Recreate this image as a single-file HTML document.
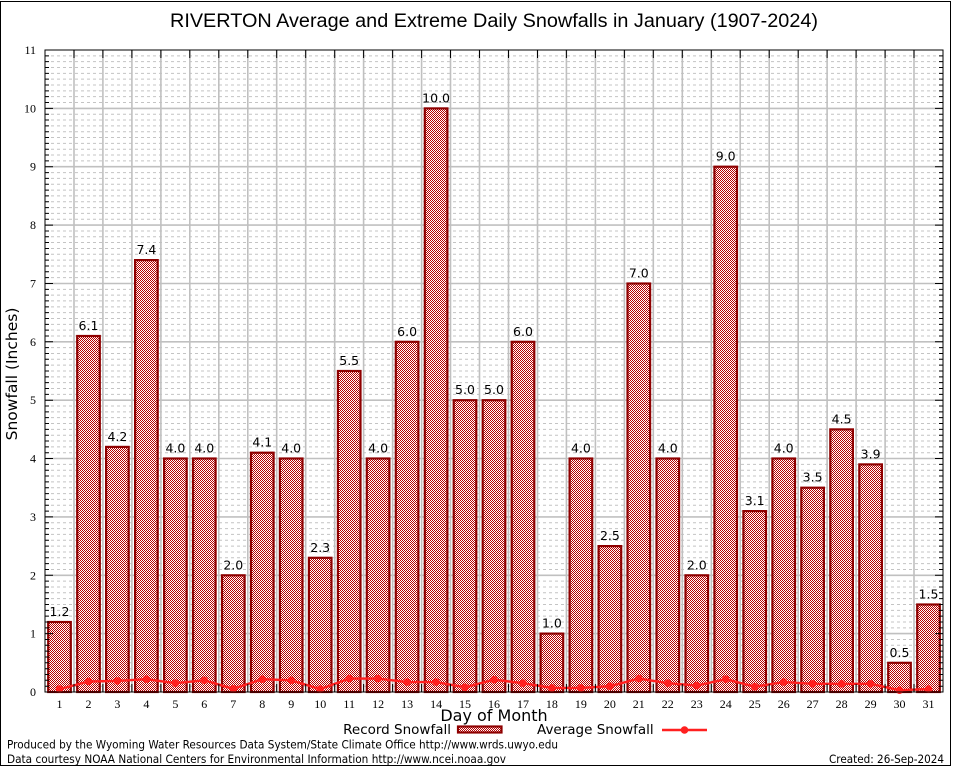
<!DOCTYPE html>
<html><head><meta charset="utf-8"><style>
html,body{margin:0;padding:0;background:#fff;}
svg{display:block;}
.tk{font-family:"Liberation Serif",serif;font-size:12px;fill:#000;}
.vl{font-family:"DejaVu Sans","Liberation Sans",sans-serif;font-size:12.5px;fill:#000;text-anchor:middle;}
.ds{font-family:"DejaVu Sans","Liberation Sans",sans-serif;fill:#000;}
</style></head><body>
<svg width="954" height="768" viewBox="0 0 954 768" xmlns="http://www.w3.org/2000/svg">
<defs>
<pattern id="chk" x="0" y="0" width="2" height="2" patternUnits="userSpaceOnUse">
<rect width="2" height="2" fill="#fff"/>
<rect x="0" y="0" width="1" height="1" fill="#b80000"/>
<rect x="1" y="1" width="1" height="1" fill="#b80000"/>
</pattern>
<path id="mg" d="M45 -5.8H943M45 -11.7H943M45 -17.5H943M45 -23.3H943M45 -29.2H943M45 -35H943M45 -40.9H943M45 -46.7H943M45 -52.5H943"/>
<path id="mt" d="M45 -5.8h4M45 -11.7h4M45 -17.5h4M45 -23.3h4M45 -29.2h4M45 -35h4M45 -40.9h4M45 -46.7h4M45 -52.5h4M943 -5.8h-4M943 -11.7h-4M943 -17.5h-4M943 -23.3h-4M943 -29.2h-4M943 -35h-4M943 -40.9h-4M943 -46.7h-4M943 -52.5h-4"/>
</defs>
<rect x="0" y="0" width="954" height="768" fill="#fff"/>
<rect x="0.5" y="1.5" width="950" height="764" fill="none" stroke="#000" stroke-width="1"/>

<text x="494" y="27" text-anchor="middle" font-family="Liberation Sans, sans-serif" font-size="19" textLength="648" lengthAdjust="spacingAndGlyphs">RIVERTON Average and Extreme Daily Snowfalls in January (1907-2024)</text>

<g stroke="#c4c4c4" stroke-width="1" stroke-dasharray="3,3" fill="none">
<use href="#mg" y="692"/><use href="#mg" y="633.64"/><use href="#mg" y="575.27"/><use href="#mg" y="516.91"/><use href="#mg" y="458.54"/><use href="#mg" y="400.18"/><use href="#mg" y="341.82"/><use href="#mg" y="283.45"/><use href="#mg" y="225.09"/><use href="#mg" y="166.72"/><use href="#mg" y="108.36"/>
</g>
<path stroke="#c0c0c0" stroke-width="1.6" fill="none" d="M45 633.6H943M45 575.3H943M45 516.9H943M45 458.5H943M45 400.2H943M45 341.8H943M45 283.5H943M45 225.1H943M45 166.7H943M45 108.4H943
M74 50V692M102.9 50V692M131.9 50V692M160.9 50V692M189.8 50V692M218.8 50V692M247.8 50V692M276.7 50V692M305.7 50V692M334.7 50V692M363.6 50V692M392.6 50V692M421.6 50V692M450.5 50V692M479.5 50V692M508.5 50V692M537.5 50V692M566.4 50V692M595.4 50V692M624.4 50V692M653.3 50V692M682.3 50V692M711.3 50V692M740.2 50V692M769.2 50V692M798.2 50V692M827.1 50V692M856.1 50V692M885.1 50V692M914 50V692"/>

<g fill="url(#chk)" stroke="#8e0000" stroke-width="2.2">
<rect x="48.2" y="622" width="22.6" height="70"/>
<rect x="77.2" y="336" width="22.6" height="356"/>
<rect x="106.1" y="446.9" width="22.6" height="245.1"/>
<rect x="135.1" y="260.1" width="22.6" height="431.9"/>
<rect x="164.1" y="458.5" width="22.6" height="233.5"/>
<rect x="193" y="458.5" width="22.6" height="233.5"/>
<rect x="222" y="575.3" width="22.6" height="116.7"/>
<rect x="251" y="452.7" width="22.6" height="239.3"/>
<rect x="279.9" y="458.5" width="22.6" height="233.5"/>
<rect x="308.9" y="557.8" width="22.6" height="134.2"/>
<rect x="337.9" y="371" width="22.6" height="321"/>
<rect x="366.8" y="458.5" width="22.6" height="233.5"/>
<rect x="395.8" y="341.8" width="22.6" height="350.2"/>
<rect x="424.8" y="108.4" width="22.6" height="583.6"/>
<rect x="453.7" y="400.2" width="22.6" height="291.8"/>
<rect x="482.7" y="400.2" width="22.6" height="291.8"/>
<rect x="511.7" y="341.8" width="22.6" height="350.2"/>
<rect x="540.6" y="633.6" width="22.6" height="58.4"/>
<rect x="569.6" y="458.5" width="22.6" height="233.5"/>
<rect x="598.6" y="546.1" width="22.6" height="145.9"/>
<rect x="627.5" y="283.5" width="22.6" height="408.5"/>
<rect x="656.5" y="458.5" width="22.6" height="233.5"/>
<rect x="685.5" y="575.3" width="22.6" height="116.7"/>
<rect x="714.4" y="166.7" width="22.6" height="525.3"/>
<rect x="743.4" y="511.1" width="22.6" height="180.9"/>
<rect x="772.4" y="458.5" width="22.6" height="233.5"/>
<rect x="801.3" y="487.7" width="22.6" height="204.3"/>
<rect x="830.3" y="429.4" width="22.6" height="262.6"/>
<rect x="859.3" y="464.4" width="22.6" height="227.6"/>
<rect x="888.2" y="662.8" width="22.6" height="29.2"/>
<rect x="917.2" y="604.5" width="22.6" height="87.5"/>
</g>

<g class="vl">
<text x="59.5" y="616">1.2</text>
<text x="88.5" y="330">6.1</text>
<text x="117.4" y="441">4.2</text>
<text x="146.4" y="254">7.4</text>
<text x="175.4" y="452.5">4.0</text>
<text x="204.3" y="452.5">4.0</text>
<text x="233.3" y="569.3">2.0</text>
<text x="262.3" y="446.7">4.1</text>
<text x="291.2" y="452.5">4.0</text>
<text x="320.2" y="551.8">2.3</text>
<text x="349.2" y="365">5.5</text>
<text x="378.1" y="452.5">4.0</text>
<text x="407.1" y="335.8">6.0</text>
<text x="436.1" y="102.4">10.0</text>
<text x="465" y="394.2">5.0</text>
<text x="494" y="394.2">5.0</text>
<text x="523" y="335.8">6.0</text>
<text x="551.9" y="627.6">1.0</text>
<text x="580.9" y="452.5">4.0</text>
<text x="609.9" y="540.1">2.5</text>
<text x="638.8" y="277.5">7.0</text>
<text x="667.8" y="452.5">4.0</text>
<text x="696.8" y="569.3">2.0</text>
<text x="725.7" y="160.7">9.0</text>
<text x="754.7" y="505.1">3.1</text>
<text x="783.7" y="452.5">4.0</text>
<text x="812.6" y="481.7">3.5</text>
<text x="841.6" y="423.4">4.5</text>
<text x="870.6" y="458.4">3.9</text>
<text x="899.5" y="656.8">0.5</text>
<text x="928.5" y="598.5">1.5</text>
</g>

<polyline fill="none" stroke="#ff2020" stroke-width="2.4" stroke-linejoin="round" points="59.5,689.1 88.5,681.5 117.4,680.9 146.4,679.2 175.4,683.2 204.3,680.3 233.3,688.8 262.3,679.2 291.2,680.3 320.2,689.1 349.2,678.6 378.1,678.6 407.1,682.1 436.1,682.1 465,687.3 494,679.7 523,683.2 551.9,687.9 580.9,687.9 609.9,686.2 638.8,678.6 667.8,683.2 696.8,685.6 725.7,679.2 754.7,686.7 783.7,682.1 812.6,683.8 841.6,683.8 870.6,683.8 899.5,690.2 928.5,689.1"/>
<g fill="#ff2020">
<circle cx="59.5" cy="689.1" r="3.8"/><circle cx="88.5" cy="681.5" r="3.8"/><circle cx="117.4" cy="680.9" r="3.8"/><circle cx="146.4" cy="679.2" r="3.8"/><circle cx="175.4" cy="683.2" r="3.8"/><circle cx="204.3" cy="680.3" r="3.8"/><circle cx="233.3" cy="688.8" r="3.8"/><circle cx="262.3" cy="679.2" r="3.8"/><circle cx="291.2" cy="680.3" r="3.8"/><circle cx="320.2" cy="689.1" r="3.8"/><circle cx="349.2" cy="678.6" r="3.8"/><circle cx="378.1" cy="678.6" r="3.8"/><circle cx="407.1" cy="682.1" r="3.8"/><circle cx="436.1" cy="682.1" r="3.8"/><circle cx="465" cy="687.3" r="3.8"/><circle cx="494" cy="679.7" r="3.8"/><circle cx="523" cy="683.2" r="3.8"/><circle cx="551.9" cy="687.9" r="3.8"/><circle cx="580.9" cy="687.9" r="3.8"/><circle cx="609.9" cy="686.2" r="3.8"/><circle cx="638.8" cy="678.6" r="3.8"/><circle cx="667.8" cy="683.2" r="3.8"/><circle cx="696.8" cy="685.6" r="3.8"/><circle cx="725.7" cy="679.2" r="3.8"/><circle cx="754.7" cy="686.7" r="3.8"/><circle cx="783.7" cy="682.1" r="3.8"/><circle cx="812.6" cy="683.8" r="3.8"/><circle cx="841.6" cy="683.8" r="3.8"/><circle cx="870.6" cy="683.8" r="3.8"/><circle cx="899.5" cy="690.2" r="3.8"/><circle cx="928.5" cy="689.1" r="3.8"/>
</g>

<rect x="45" y="50" width="898" height="642" fill="none" stroke="#000" stroke-width="1"/>
<g stroke="#000" stroke-width="1" fill="none">
<use href="#mt" y="692"/><use href="#mt" y="633.64"/><use href="#mt" y="575.27"/><use href="#mt" y="516.91"/><use href="#mt" y="458.54"/><use href="#mt" y="400.18"/><use href="#mt" y="341.82"/><use href="#mt" y="283.45"/><use href="#mt" y="225.09"/><use href="#mt" y="166.72"/><use href="#mt" y="108.36"/>
<path d="M45 633.6h8M45 575.3h8M45 516.9h8M45 458.5h8M45 400.2h8M45 341.8h8M45 283.5h8M45 225.1h8M45 166.7h8M45 108.4h8
M943 633.6h-8M943 575.3h-8M943 516.9h-8M943 458.5h-8M943 400.2h-8M943 341.8h-8M943 283.5h-8M943 225.1h-8M943 166.7h-8M943 108.4h-8
M74 50v8M102.9 50v8M131.9 50v8M160.9 50v8M189.8 50v8M218.8 50v8M247.8 50v8M276.7 50v8M305.7 50v8M334.7 50v8M363.6 50v8M392.6 50v8M421.6 50v8M450.5 50v8M479.5 50v8M508.5 50v8M537.5 50v8M566.4 50v8M595.4 50v8M624.4 50v8M653.3 50v8M682.3 50v8M711.3 50v8M740.2 50v8M769.2 50v8M798.2 50v8M827.1 50v8M856.1 50v8M885.1 50v8M914 50v8
M74 692v-8M102.9 692v-8M131.9 692v-8M160.9 692v-8M189.8 692v-8M218.8 692v-8M247.8 692v-8M276.7 692v-8M305.7 692v-8M334.7 692v-8M363.6 692v-8M392.6 692v-8M421.6 692v-8M450.5 692v-8M479.5 692v-8M508.5 692v-8M537.5 692v-8M566.4 692v-8M595.4 692v-8M624.4 692v-8M653.3 692v-8M682.3 692v-8M711.3 692v-8M740.2 692v-8M769.2 692v-8M798.2 692v-8M827.1 692v-8M856.1 692v-8M885.1 692v-8M914 692v-8"/>
</g>

<g class="tk" text-anchor="end">
<text x="36" y="696">0</text>
<text x="36" y="637.6">1</text>
<text x="36" y="579.3">2</text>
<text x="36" y="520.9">3</text>
<text x="36" y="462.5">4</text>
<text x="36" y="404.2">5</text>
<text x="36" y="345.8">6</text>
<text x="36" y="287.5">7</text>
<text x="36" y="229.1">8</text>
<text x="36" y="170.7">9</text>
<text x="36" y="112.4">10</text>
<text x="36" y="54">11</text>
</g>

<g class="tk" text-anchor="middle">
<text x="59.5" y="708">1</text><text x="88.5" y="708">2</text><text x="117.4" y="708">3</text><text x="146.4" y="708">4</text><text x="175.4" y="708">5</text><text x="204.3" y="708">6</text><text x="233.3" y="708">7</text><text x="262.3" y="708">8</text><text x="291.2" y="708">9</text><text x="320.2" y="708">10</text><text x="349.2" y="708">11</text><text x="378.1" y="708">12</text><text x="407.1" y="708">13</text><text x="436.1" y="708">14</text><text x="465" y="708">15</text><text x="494" y="708">16</text><text x="523" y="708">17</text><text x="551.9" y="708">18</text><text x="580.9" y="708">19</text><text x="609.9" y="708">20</text><text x="638.8" y="708">21</text><text x="667.8" y="708">22</text><text x="696.8" y="708">23</text><text x="725.7" y="708">24</text><text x="754.7" y="708">25</text><text x="783.7" y="708">26</text><text x="812.6" y="708">27</text><text x="841.6" y="708">28</text><text x="870.6" y="708">29</text><text x="899.5" y="708">30</text><text x="928.5" y="708">31</text>
</g>

<text class="ds" x="494" y="721" text-anchor="middle" font-size="16">Day of Month</text>
<text class="ds" transform="translate(17,374) rotate(-90)" text-anchor="middle" font-size="15.5">Snowfall (Inches)</text>

<text class="ds" x="451" y="734" text-anchor="end" font-size="13.5">Record Snowfall</text>
<rect x="458" y="726.5" width="43.5" height="6" fill="url(#chk)" stroke="#8e0000" stroke-width="2.2"/>
<text class="ds" x="537" y="734" font-size="13.5">Average Snowfall</text>
<line x1="662" y1="730" x2="707" y2="730" stroke="#ff2020" stroke-width="2.4"/>
<circle cx="684.5" cy="730" r="3.8" fill="#ff2020"/>

<text class="ds" x="7" y="748.5" font-size="11.5" textLength="551" lengthAdjust="spacingAndGlyphs">Produced by the Wyoming Water Resources Data System/State Climate Office http://www.wrds.uwyo.edu</text>
<text class="ds" x="7" y="763" font-size="11.5" textLength="499" lengthAdjust="spacingAndGlyphs">Data courtesy NOAA National Centers for Environmental Information http://www.ncei.noaa.gov</text>
<text class="ds" x="944" y="763" font-size="11.5" text-anchor="end" textLength="115" lengthAdjust="spacingAndGlyphs">Created: 26-Sep-2024</text>
</svg>
</body></html>
